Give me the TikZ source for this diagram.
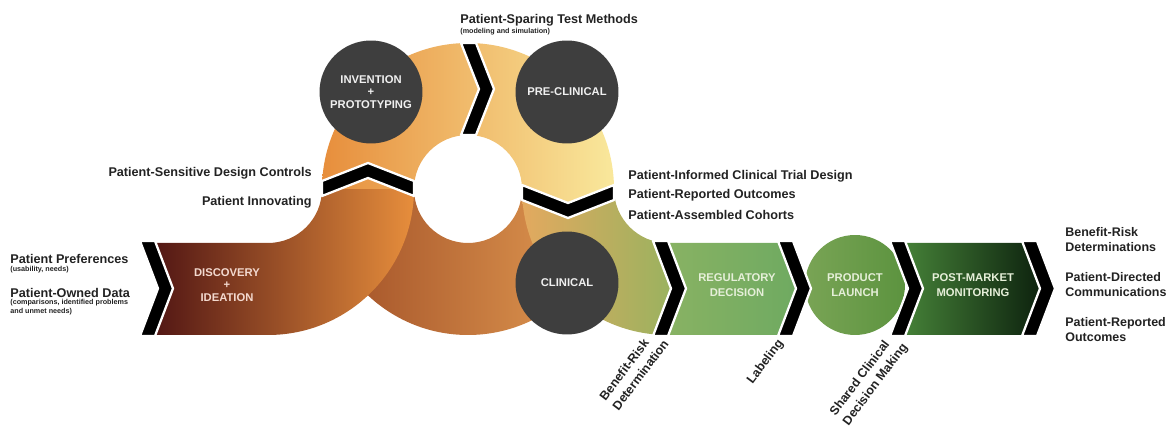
\documentclass[tikz,border=0pt]{standalone}
\usepackage{fontspec}
\setmainfont{Liberation Sans}
\usepackage{tikz}
\usetikzlibrary{calc,shapes}

\definecolor{discA}{HTML}{4A1012}
\definecolor{discB}{HTML}{C46A30}
\definecolor{discC}{HTML}{E78E3C}
\definecolor{lobeL}{HTML}{A04E26}
\definecolor{lobeR}{HTML}{E6A055}
\definecolor{paleY}{HTML}{F9E89C}
\definecolor{clinA}{HTML}{E3A95F}
\definecolor{clinB}{HTML}{C4B667}
\definecolor{clinC}{HTML}{93B35F}
\definecolor{regL}{HTML}{8BB363}
\definecolor{regR}{HTML}{6CA961}
\definecolor{plL}{HTML}{79A455}
\definecolor{plR}{HTML}{5C933F}
\definecolor{pmL}{HTML}{4B8B3C}
\definecolor{pmM}{HTML}{1E5426}
\definecolor{pmR}{HTML}{07180A}
\definecolor{stagegray}{HTML}{3E3E3E}
\definecolor{ink}{HTML}{222222}
\definecolor{pinkw}{HTML}{F3D9CF}
\definecolor{greenw}{HTML}{E6EFD9}

\begin{document}
\begin{tikzpicture}[x=0.02cm, y=0.02cm,
  chev/.style={fill=black, draw=white, line width=1.3pt, line join=round},
  stage/.style={circle, fill=stagegray, text=white!94!black, inner sep=0pt, minimum size=2.06cm, align=center, font=\bfseries\fontsize{6.4}{7.1}\selectfont},
  inband/.style={align=center, inner sep=0pt, font=\bfseries\fontsize{6.4}{8.5}\selectfont},
  ptxt/.style={inner sep=0pt, text=ink, font=\bfseries\fontsize{7.2}{8.6}\selectfont},
  subtxt/.style={inner sep=0pt, text=ink, align=left, font=\bfseries\fontsize{4.1}{5.1}\selectfont},
  outc/.style={inner sep=0pt, text=ink, align=left, font=\bfseries\fontsize{7.1}{8.5}\selectfont},
  tilt/.style={inner sep=0pt, text=ink, align=left, rotate=53, anchor=north west, font=\bfseries\fontsize{7.1}{9.2}\selectfont}]

  \useasboundingbox (0,0) rectangle (1170,426);

  % lower half of the loop
  \shade [left color=lobeL, right color=lobeR] (322,237) arc [start angle=180, end angle=360, radius=146] -- (522,237) arc [start angle=0, end angle=-180, radius=54] -- cycle;
  % discovery band bending up
  \shade [left color=discA, middle color=discB, right color=discC] (140,183) -- (158,137.5) -- (140,91) -- (268,91) arc [start angle=-90, end angle=0, radius=146] -- (322,237) arc [start angle=0, end angle=-90, radius=54] -- cycle;
  % coming down to the clinical stage
  \shade [left color=clinA, middle color=clinB, right color=clinC] (522,237) -- (614,237) arc [start angle=180, end angle=270, radius=54] -- (686,137.5) -- (668,91) arc [start angle=270, end angle=180, radius=146] -- cycle;
  % top of the loop
  \shade [left color=discC, right color=paleY] (322,237) arc [start angle=180, end angle=0, radius=146] -- (568,219) -- (522,237) arc [start angle=0, end angle=180, radius=54] -- cycle;
  \shade [left color=regL, right color=regR] (653,183) -- (793,183) -- (811,137.5) -- (793,91) -- (653,91) -- (671,137.5) -- cycle;
  \shade [left color=pmL, middle color=pmM, right color=pmR] (890,183) -- (1037,183) -- (1055,137.5) -- (1037,91) -- (890,91) -- (908,137.5) -- cycle;
  \node [circle, minimum size=2cm, inner sep=0pt, left color=plL, right color=plR, text=greenw, align=center, font=\bfseries\fontsize{6.4}{8.5}\selectfont] (launch) at (855,141) {PRODUCT\\LAUNCH};

  % chevrons
  \foreach \cx in {140,653,778,890,1022}
    \draw [chev] (\cx,185) -- ++(15,0) -- ++(18,-47.5) -- ++(-18,-47.5) -- ++(-15,0) -- ++(18,47.5) -- cycle;
  \foreach \ang/\off in {180/0,90/0,0/3}
    \draw [chev, shift={(468,237)}, rotate=\ang-90] (\off-7,146) -- ++(15,0) -- ++(18,-46) -- ++(-18,-46) -- ++(-15,0) -- ++(18,46) -- cycle;

  \node [stage] (invent) at (371,334) {INVENTION\\+\\PROTOTYPING};
  \node [stage] (precl) at (567,334) {PRE-CLINICAL};
  \node [stage] (clin) at (567,143) {CLINICAL};

  \node [inband, text=pinkw, font=\bfseries\fontsize{6.4}{7.1}\selectfont] (disc) at (227,141) {DISCOVERY\\+\\IDEATION};
  \node [inband, text=greenw] (reg) at (737,141) {REGULATORY\\DECISION};
  \node [inband, text=greenw] (post) at (973,141) {POST-MARKET\\MONITORING};

  \node [ptxt, anchor=west] (pref) at (10,167) {Patient Preferences};
  \node [subtxt, anchor=west] (prefn) at (10,156) {(usability, needs)};
  \node [ptxt, anchor=west] (owned) at (10,133) {Patient-Owned Data};
  \node [subtxt, anchor=west] (ownedn) at (10,118.5) {(comparisons, identified problems\\and unmet needs)};

  \node [ptxt, anchor=east] (design) at (312,253) {Patient-Sensitive Design Controls};
  \node [ptxt, anchor=east] (innov) at (312,224) {Patient Innovating};
  \node [ptxt, anchor=west] (spare) at (460,406) {Patient-Sparing Test Methods};
  \node [subtxt, anchor=west] (sparen) at (460,394) {(modeling and simulation)};
  \node [ptxt, anchor=west] (trial) at (628,250) {Patient-Informed Clinical Trial Design};
  \node [ptxt, anchor=west] (pro) at (628,231) {Patient-Reported Outcomes};
  \node [ptxt, anchor=west] (cohort) at (628,211) {Patient-Assembled Cohorts};

  \node [outc, anchor=west] (brd) at (1065,186.5) {Benefit-Risk\\Determinations};
  \node [outc, anchor=west] (pdc) at (1065,141) {Patient-Directed\\Communications};
  \node [outc, anchor=west] (outcm) at (1065,96) {Patient-Reported\\Outcomes};

  \node [tilt] (brdet) at (598,30) {Benefit-Risk\\Determination};
  \node [tilt] (label) at (745,47) {Labeling};
  \node [tilt] (shared) at (828,15) {Shared Clinical\\Decision Making};

\end{tikzpicture}
\end{document}
